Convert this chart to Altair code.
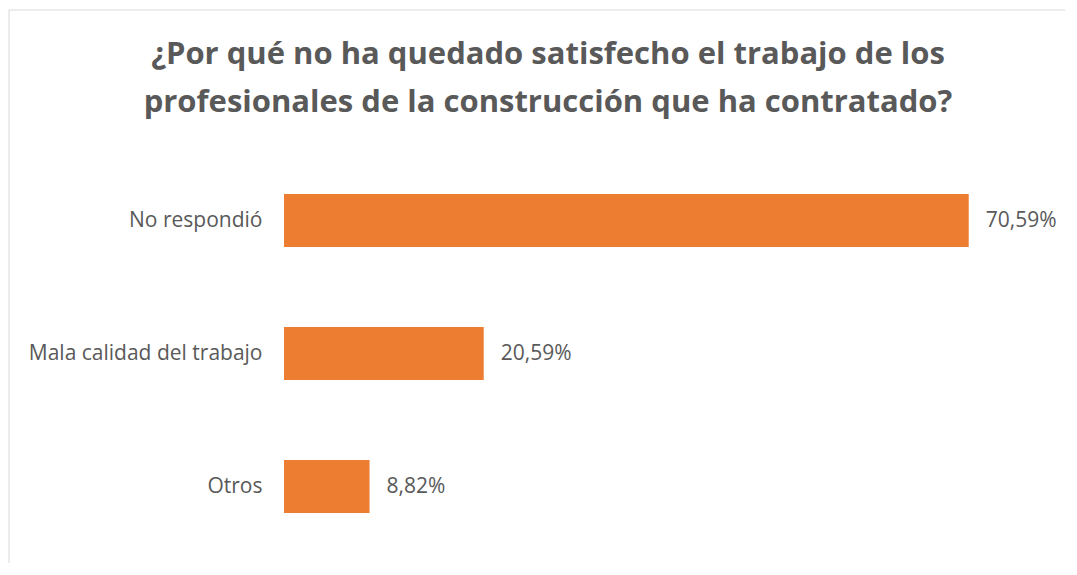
import altair as alt
import pandas as pd

categories = ["No respondió", "Mala calidad del trabajo", "Otros"]
values = [70.59, 20.59, 8.82]
value_labels = ["70,59%", "20,59%", "8,82%"]
title_lines = [
    "¿Por qué no ha quedado satisfecho el trabajo de los",
    "profesionales de la construcción que ha contratado?",
]

df = pd.DataFrame({"cat": categories, "val": values, "lbl": value_labels})

FONT = "Open Sans"
GRAY = "#595959"

y_enc = alt.Y(
    "cat:N",
    sort=categories,
    scale=alt.Scale(paddingInner=0.6, paddingOuter=0.3),
    axis=alt.Axis(
        title=None, domain=False, ticks=False, labelPadding=22,
        labelFont=FONT, labelFontSize=21, labelColor=GRAY, labelLimit=400,
    ),
)
x_enc = alt.X("val:Q", scale=alt.Scale(domain=[0, 80]), axis=None)

bars = alt.Chart(df).mark_bar(color="#ED7D31").encode(x=x_enc, y=y_enc)
texts = alt.Chart(df).mark_text(
    align="left", baseline="middle", dx=17, font=FONT, fontSize=21, color=GRAY
).encode(x=x_enc, y=alt.Y("cat:N", sort=categories), text="lbl:N")

frame = alt.Chart(alt.Data(values=[{}])).mark_rect(
    fillOpacity=0, stroke="#D9D9D9", strokeWidth=1
).encode(
    x=alt.value(-275), x2=alt.value(900), y=alt.value(-144), y2=alt.value(600)
)

chart = alt.layer(frame, bars, texts).properties(
    width=776,
    height=399,
    padding={"left": 276, "top": 146, "right": 5, "bottom": 10},
    autosize=alt.AutoSizeParams(type="none"),
    title=alt.TitleParams(
        text=title_lines, font=FONT, fontSize=31, fontWeight="bold",
        color=GRAY, anchor="middle", frame="group", dx=-124, dy=137,
        lineHeight=48, offset=28,
    ),
).configure_view(stroke=None)

chart.save("out.html", embed_options={"renderer": "svg", "actions": False})
